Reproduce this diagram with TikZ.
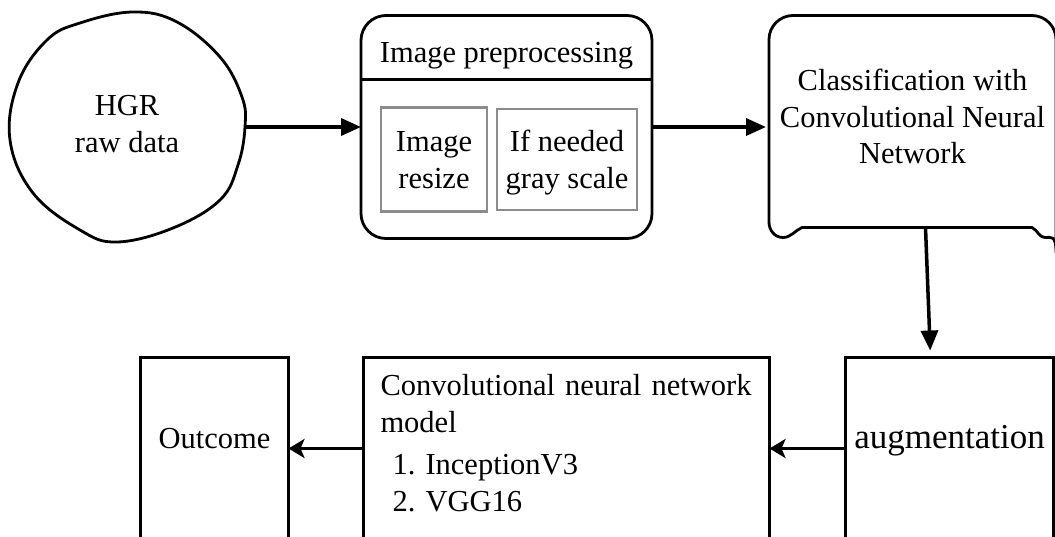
\documentclass[tikz,border=0pt]{standalone}
\usepackage{fontspec}
\setmainfont{Liberation Serif}
\usetikzlibrary{positioning,arrows.meta,calc}

\begin{document}
\begin{tikzpicture}[
  x=1pt, y=-1pt,
  font=\fontsize{30.5pt}{36.5pt}\selectfont,
  frame/.style={draw, line width=2.8pt},
  box/.style={frame, outer sep=0pt, inner sep=0pt, align=center},
  subbox/.style={draw=black!45, line width=2.4pt, outer sep=0pt, align=center, text height=60pt, text depth=3pt},
  lowbox/.style={box, minimum height=182pt, text height=21pt, text depth=21pt},
  arr/.style={-{Triangle[length=20pt,width=17pt]}, line width=3.5pt},
  arrlow/.style={-{Stealth[length=16pt,width=19pt,inset=4pt]}, line width=3.5pt}
]
\useasboundingbox (0,0) rectangle (1055,536);
\node[circle, outer sep=0pt, minimum size=236pt, align=center, text height=57pt, text depth=7pt] (blob) at (127,127) {HGR\\raw data};
\draw[frame] plot[smooth cycle, tension=0.65] coordinates {(80,23) (133,12) (177,22) (220,57) (242,97) (245,127) (238,165) (220,200) (173,228) (117,242) (80,230) (33,193) (10,140) (18,83) (47,40)};
\node[box, right=116pt of blob, minimum width=291pt, minimum height=223pt, rounded corners=25pt] (prep) {};
\node[anchor=base] (prephead) at ([yshift=-47pt]prep.north) {Image preprocessing};
\draw[frame] ([yshift=-64pt]prep.north west) -- ([yshift=-64pt]prep.north east);
\node[subbox, below right=92pt and 20pt of prep.north west, minimum width=106pt, minimum height=104pt] (resize) {Image\\resize};
\node[subbox, right=10pt of resize, minimum width=140pt, minimum height=101pt] (gray) {If needed\\gray scale};
\node[right=117pt of prep, minimum width=287pt, minimum height=223pt, outer sep=0pt, align=center, text height=94pt, text depth=21pt] (cls) {Classification with\\Convolutional Neural\\Network};
\draw[frame, line join=round] ($(cls.south west)+(0,-16)$) [rounded corners=24pt] -- (cls.north west) -- (cls.north east) -- ($(cls.south east)+(0,-10)$) [sharp corners]
  .. controls +(0,6) and +(6,0) .. ($(cls.south east)+(-11,-1)$)
  .. controls +(-6,0) and +(6,3) .. ($(cls.south east)+(-24,-11)$)
  -- ($(cls.south west)+(33,-11)$)
  .. controls +(-7,3) and +(8,0) .. ($(cls.south west)+(14,-1)$)
  .. controls +(-8,0) and +(0,8) .. ($(cls.south west)+(0,-16)$) -- cycle;
\node[lowbox, below=119pt of cls.south, xshift=37pt, minimum width=208pt, font=\fontsize{35pt}{40pt}\selectfont] (aug) {augmentation};
\node[lowbox, left=76pt of aug, minimum width=406pt, text width=372pt, align=left, text depth=127pt] (cnn) {Convolutional neural network\\model\\[6pt]\hspace*{12pt}1.\ InceptionV3\\\hspace*{12pt}2.\ VGG16};
\node[lowbox, left=75pt of cnn, minimum width=148pt] (out) {Outcome};
\draw[arr] (blob) -- (prep);
\draw[arr, shorten >=3pt] (prep) -- (cls);
\draw[arr, shorten >=7pt] ($(cls.south)+(13,-11)$) -- ($(aug.north)+(-19,0)$);
\draw[arrlow] (aug) -- (cnn);
\draw[arrlow] (cnn) -- (out);
\end{tikzpicture}
\end{document}
